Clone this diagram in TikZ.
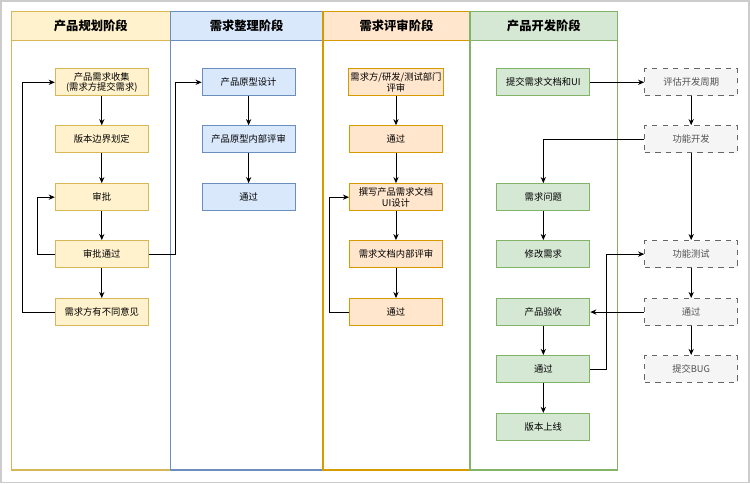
\documentclass[tikz,border=0pt]{standalone}
\usepackage{fontspec}
\setmainfont{Noto Sans CJK SC}
\usetikzlibrary{arrows.meta}
\definecolor{yf}{HTML}{FFF2CC}\definecolor{yd}{HTML}{D6B656}
\definecolor{bf}{HTML}{DAE8FC}\definecolor{bd}{HTML}{6C8EBF}
\definecolor{of}{HTML}{FFE6CC}\definecolor{od}{HTML}{D79B00}
\definecolor{gf}{HTML}{D5E8D4}\definecolor{gd}{HTML}{82B366}
\definecolor{hf}{HTML}{F5F5F5}\definecolor{hd}{HTML}{666666}
\begin{document}
\begin{tikzpicture}[x=0.02cm,y=-0.02cm,
 box/.style={draw,line width=0.6pt,minimum width=1.86cm,minimum height=0.54cm,inner sep=1pt,align=center,font=\fontsize{5.3}{6}\selectfont},
 yb/.style={box,fill=yf,draw=yd}, bb/.style={box,fill=bf,draw=bd},
 ob/.style={box,fill=of,draw=od}, gb/.style={box,fill=gf,draw=gd},
 hb/.style={box,fill=hf,draw=hd,dashed,text=hd!80!black},
 hdr/.style={font=\fontsize{7}{8}\selectfont\bfseries},
 ar/.style={-{Stealth[length=3.5pt,width=3pt]},line width=0.5pt}]
\fill[white] (0,0) rectangle (750,483);
\draw[gray!40,line width=1pt] (0.5,0.5) rectangle (749.5,482.5);
\foreach \a/\b/\f/\d/\t in {11/170/yf/yd/产品规划阶段,170/323/bf/bd/需求整理阶段,323/470/of/od/需求评审阶段,470/618/gf/gd/产品开发阶段}{
 \draw[\d,line width=0.8pt] (\a,11) rectangle (\b,470);
 \draw[\d,fill=\f,line width=0.8pt] (\a,11) rectangle (\b,40);
 \node[hdr] at ({(\a+\b)/2},25.5) {\t};}
\node[yb] (a1) at (101.5,82) {产品需求收集\\(需求方提交需求)};
\node[yb] (a2) at (101.5,139) {版本边界划定};
\node[yb] (a3) at (101.5,197) {审批};
\node[yb] (a4) at (101.5,254) {审批通过};
\node[yb] (a5) at (101.5,312) {需求方有不同意见};
\node[bb] (b1) at (248.5,82) {产品原型设计};
\node[bb] (b2) at (248.5,139) {产品原型内部评审};
\node[bb] (b3) at (248.5,197) {通过};
\node[ob] (c1) at (396,82) {需求方/研发/测试部门\\评审};
\node[ob] (c2) at (396,139) {通过};
\node[ob] (c3) at (396,197) {撰写产品需求文档\\UI设计};
\node[ob] (c4) at (396,254) {需求文档内部评审};
\node[ob] (c5) at (396,312) {通过};
\node[gb] (d1) at (543.5,82) {提交需求文档和UI};
\node[gb] (d2) at (543.5,197) {需求问题};
\node[gb] (d3) at (543.5,254) {修改需求};
\node[gb] (d4) at (543.5,312) {产品验收};
\node[gb] (d5) at (543.5,369) {通过};
\node[gb] (d6) at (543.5,427) {版本上线};
\node[hb] (e1) at (691.5,82) {评估开发周期};
\node[hb] (e2) at (691.5,139) {功能开发};
\node[hb] (e3) at (691.5,254) {功能测试};
\node[hb] (e4) at (691.5,312) {通过};
\node[hb] (e5) at (691.5,369) {提交BUG};
\foreach \p/\q in {a1/a2,a2/a3,a3/a4,a4/a5,b1/b2,b2/b3,c1/c2,c2/c3,c3/c4,c4/c5,d2/d3,d4/d5,d5/d6,e1/e2,e2/e3,e3/e4,e4/e5}
 \draw[ar] (\p) -- (\q);
\draw[ar] (a4.west) -- (37,254) |- (a3.west);
\draw[ar] (a5.west) -- (22,312) |- (a1.west);
\draw[ar] (a4.east) -- (175,254) |- (b1.west);
\draw[ar] (c5.west) -- (329,312) |- (c3.west);
\draw[ar] (d1) -- (e1);
\draw[ar] (e2.west) -| (d2.north);
\draw[ar] (e4) -- (d4);
\draw[ar] (d5.east) -- (607,369) |- (e3.west);
\end{tikzpicture}
\end{document}
